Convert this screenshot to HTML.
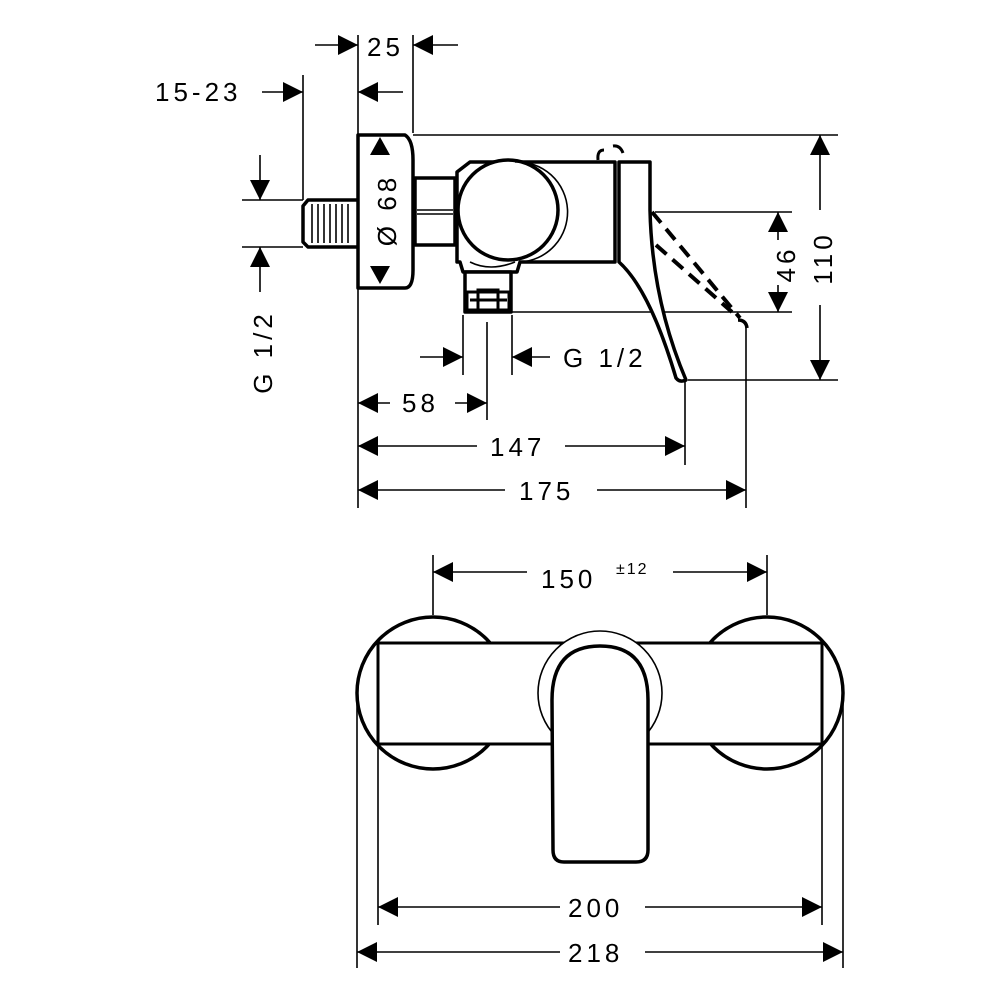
<!DOCTYPE html>
<html><head><meta charset="utf-8"><style>
html,body{margin:0;padding:0;background:#fff;}
svg{display:block;}
text{font-family:"Liberation Sans",sans-serif;font-size:26px;fill:#000;letter-spacing:4px;}
</style></head><body>
<svg width="1000" height="1000" viewBox="0 0 1000 1000" xmlns="http://www.w3.org/2000/svg">
<defs>
<marker id="a" viewBox="0 0 20 20" refX="20" refY="10" markerWidth="20" markerHeight="20" markerUnits="userSpaceOnUse" orient="auto"><path d="M0,0 L20,10 L0,20 Z" fill="#000"/></marker>
</defs>
<g stroke="#000" stroke-width="1.6" fill="none">
<line x1="358" y1="35" x2="358" y2="508"/>
<line x1="413" y1="35" x2="413" y2="133"/>
<line x1="303" y1="75" x2="303" y2="200"/>
<line x1="413" y1="135" x2="838" y2="135"/>
<line x1="242" y1="200" x2="303" y2="200"/>
<line x1="242" y1="247" x2="303" y2="247"/>
<line x1="655" y1="212" x2="792" y2="212"/>
<line x1="512" y1="312" x2="792" y2="312"/>
<line x1="688" y1="380" x2="838" y2="380"/>
<line x1="463" y1="315" x2="463" y2="375"/>
<line x1="512" y1="315" x2="512" y2="375"/>
<line x1="487" y1="322" x2="487" y2="420"/>
<line x1="685" y1="382" x2="685" y2="465"/>
<line x1="746" y1="325" x2="746" y2="508"/>
<line x1="315" y1="45" x2="358" y2="45" marker-end="url(#a)"/>
<line x1="458" y1="45" x2="413" y2="45" marker-end="url(#a)"/>
<line x1="262" y1="92" x2="303" y2="92" marker-end="url(#a)"/>
<line x1="403" y1="92" x2="358" y2="92" marker-end="url(#a)"/>
<line x1="260" y1="155" x2="260" y2="200" marker-end="url(#a)"/>
<line x1="260" y1="292" x2="260" y2="247" marker-end="url(#a)"/>
<line x1="420" y1="357" x2="463" y2="357" marker-end="url(#a)"/>
<line x1="550" y1="357" x2="512" y2="357" marker-end="url(#a)"/>
<line x1="390" y1="403" x2="358" y2="403" marker-end="url(#a)"/>
<line x1="455" y1="403" x2="487" y2="403" marker-end="url(#a)"/>
<line x1="477" y1="446" x2="358" y2="446" marker-end="url(#a)"/>
<line x1="565" y1="446" x2="685" y2="446" marker-end="url(#a)"/>
<line x1="505" y1="490" x2="358" y2="490" marker-end="url(#a)"/>
<line x1="597" y1="490" x2="746" y2="490" marker-end="url(#a)"/>
<line x1="778" y1="240" x2="778" y2="212" marker-end="url(#a)"/>
<line x1="778" y1="285" x2="778" y2="312" marker-end="url(#a)"/>
<line x1="820" y1="210" x2="820" y2="135" marker-end="url(#a)"/>
<line x1="820" y1="305" x2="820" y2="380" marker-end="url(#a)"/>
</g>
<g stroke="#000" stroke-width="3.5" fill="#fff" stroke-linejoin="round">
<path d="M358,200 L308,200 L303,206 L303,242 L308,247 L358,247"/>
<path d="M358,135 L405,135 Q413,140 413,160 L413,270 Q413,288 405,288 L358,288 Z"/>
<rect x="415" y="178" width="40" height="67"/>
<path d="M457,172 L470,162 L615,162 L615,262 L520,262 L517,272 L463,272 L460,262 L457,262 Z"/>
<circle cx="508" cy="210" r="50"/>
<rect x="465" y="272" width="46" height="40"/>
<path d="M619,162 L650,162 L650,210 Q652,300 686,380 Q680,383 676,378 Q650,290 619,262 Z"/>
</g>
<g stroke="#000" stroke-width="1.6" fill="none">
<line x1="312" y1="204" x2="312" y2="243"/><line x1="318" y1="204" x2="318" y2="243"/><line x1="324" y1="204" x2="324" y2="243"/><line x1="330" y1="204" x2="330" y2="243"/><line x1="336" y1="204" x2="336" y2="243"/><line x1="342" y1="204" x2="342" y2="243"/><line x1="348" y1="204" x2="348" y2="243"/>
<line x1="417" y1="210" x2="453" y2="210"/><line x1="417" y1="214" x2="453" y2="214"/>
<path d="M515,162 A50,50 0 0 1 520,262"/>
<path d="M470,262 Q490,272 515,262"/>
<line x1="615" y1="162" x2="615" y2="262"/>
</g>
<g stroke="#000" stroke-width="3" fill="none">
<rect x="467" y="292" width="42" height="18"/>
<rect x="478" y="290" width="20" height="20"/>
<line x1="470" y1="300" x2="507" y2="300"/>
<path d="M598,160 Q597,150 604,150 M613,146 Q620,145 623,153" />
</g>
<g stroke="#000" stroke-width="4" fill="none" stroke-dasharray="14,8">
<line x1="652" y1="212" x2="740" y2="318"/>
<line x1="656" y1="245" x2="732" y2="312"/>
</g>
<path d="M738,320 Q746,320 747,328" stroke="#000" stroke-width="3.5" fill="none"/>
<path d="M370,155 L380,137 L390,155 Z" fill="#000"/>
<path d="M370,266 L380,284 L390,266 Z" fill="#000"/>
<text x="0" y="0" transform="translate(396,210) rotate(-90)" text-anchor="middle">Ø 68</text>
<text x="367" y="56">25</text>
<text x="155" y="101">15-23</text>
<text x="0" y="0" transform="translate(272,352) rotate(-90)" text-anchor="middle">G 1/2</text>
<text x="563" y="367">G 1/2</text>
<text x="402" y="412">58</text>
<text x="490" y="456">147</text>
<text x="519" y="500">175</text>
<text x="0" y="0" transform="translate(795,264) rotate(-90)" text-anchor="middle">46</text>
<text x="0" y="0" transform="translate(832,258) rotate(-90)" text-anchor="middle">110</text>

<g stroke="#000" stroke-width="1.6" fill="none">
<line x1="433" y1="555" x2="433" y2="615"/>
<line x1="767" y1="555" x2="767" y2="615"/>
<line x1="378" y1="745" x2="378" y2="925"/>
<line x1="822" y1="745" x2="822" y2="925"/>
<line x1="357" y1="695" x2="357" y2="968"/>
<line x1="843" y1="695" x2="843" y2="968"/>
<line x1="527" y1="572" x2="433" y2="572" marker-end="url(#a)"/>
<line x1="673" y1="572" x2="767" y2="572" marker-end="url(#a)"/>
<line x1="560" y1="907" x2="378" y2="907" marker-end="url(#a)"/>
<line x1="645" y1="907" x2="822" y2="907" marker-end="url(#a)"/>
<line x1="560" y1="952" x2="357" y2="952" marker-end="url(#a)"/>
<line x1="645" y1="952" x2="843" y2="952" marker-end="url(#a)"/>
</g>
<g stroke="#000" stroke-width="3.5" fill="#fff">
<circle cx="433" cy="693" r="76"/>
<circle cx="767" cy="693" r="76"/>
<rect x="378" y="643" width="444" height="101" stroke-width="3"/>
</g>
<circle cx="600" cy="693" r="62" stroke="#000" stroke-width="1.6" fill="#fff"/>
<path d="M552,700 Q552,646 600,646 Q648,646 648,700 L648,850 Q648,862 636,862 L564,862 Q553,862 553,850 Z" stroke="#000" stroke-width="3.5" fill="#fff"/>
<text x="541" y="588">150</text>
<text x="616" y="574" style="font-size:16px;letter-spacing:2px">±12</text>
<text x="568" y="917">200</text>
<text x="568" y="962">218</text>
</svg>
</body></html>
